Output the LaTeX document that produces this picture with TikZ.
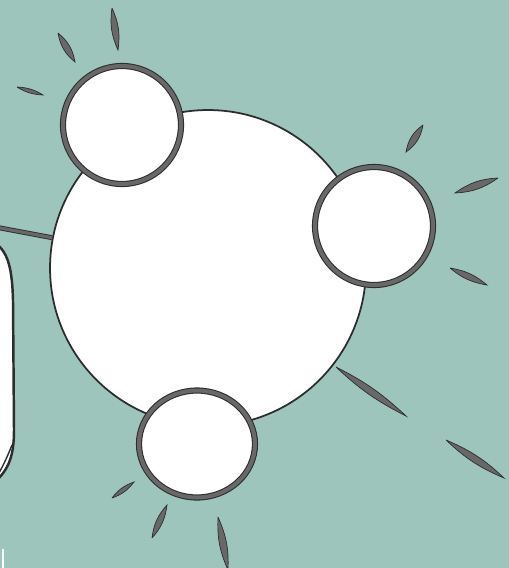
\documentclass[tikz,border=0pt]{standalone}
\usepackage{tikz}
\usetikzlibrary{shapes.geometric}
\definecolor{seagreen}{RGB}{157,197,188}
\definecolor{ringgray}{RGB}{104,104,104}
\definecolor{inkdark}{RGB}{45,45,45}

\begin{document}
\begin{tikzpicture}[
    x=0.02cm, y=-0.02cm,
    hub/.style={circle, draw=inkdark, fill=white, line width=1pt, minimum size=6.32cm, inner sep=0pt},
    sat/.style={circle, draw=inkdark, double=ringgray, double distance=2.3pt, line width=0.6pt, fill=white, inner sep=0pt, minimum size=2.36cm},
    ray/.style={fill=ringgray, draw=inkdark, line width=0.4pt},
    link/.style={draw=inkdark, double=ringgray, double distance=1.8pt, line width=0.5pt}
]
\fill[seagreen] (0,0) rectangle (509,568);
\useasboundingbox (0,0) rectangle (509,568);

\filldraw[fill=white, draw=inkdark, line width=1.4pt] (-10,240) .. controls (6,248) and (12,262) .. (13,300) -- (14,430) .. controls (14,458) and (8,472) .. (-10,486);
\draw[inkdark, line width=0.8pt] (12,445) .. controls (6,460) and (2,468) .. (-4,478);

\node[hub] (hub) at (208,268) {};
\coordinate (stub) at (-5,227);
\draw[link] (stub) -- (hub.169);

\node[sat] (sun) at (122,125) {};
\node[sat] (east) at (374,226) {};
\node[sat, ellipse, minimum width=2.32cm, minimum height=2.14cm] (south) at (197,444) {};

\filldraw[ray] (58,33) to[bend left=20] (75,62) to[bend left=20] (58,33);
\filldraw[ray] (112,8) to[bend left=16] (118,50) to[bend left=16] (112,8);
\filldraw[ray] (17,87) to[bend left=14] (43,95) to[bend left=14] (17,87);
\filldraw[ray] (423,125) to[bend left=22] (406,152) to[bend left=22] (423,125);
\filldraw[ray] (498,178) to[bend left=16] (455,193) to[bend left=16] (498,178);
\filldraw[ray] (450,268) to[bend left=15] (487,285) to[bend left=15] (450,268);
\filldraw[ray] (112,498) to[bend left=16] (134,482) to[bend left=16] (112,498);
\filldraw[ray] (152,538) to[bend left=17] (167,505) to[bend left=17] (152,538);
\filldraw[ray] (218,517) to[bend left=13] (228,570) to[bend left=13] (218,517);
\filldraw[ray] (336,367) to[bend left=8] (406,416) to[bend left=8] (336,367);
\filldraw[ray] (446,440) to[bend left=10] (504,478) to[bend left=10] (446,440);

\draw[white, line width=1.2pt] (3,549) -- (3,568);
\end{tikzpicture}
\end{document}
